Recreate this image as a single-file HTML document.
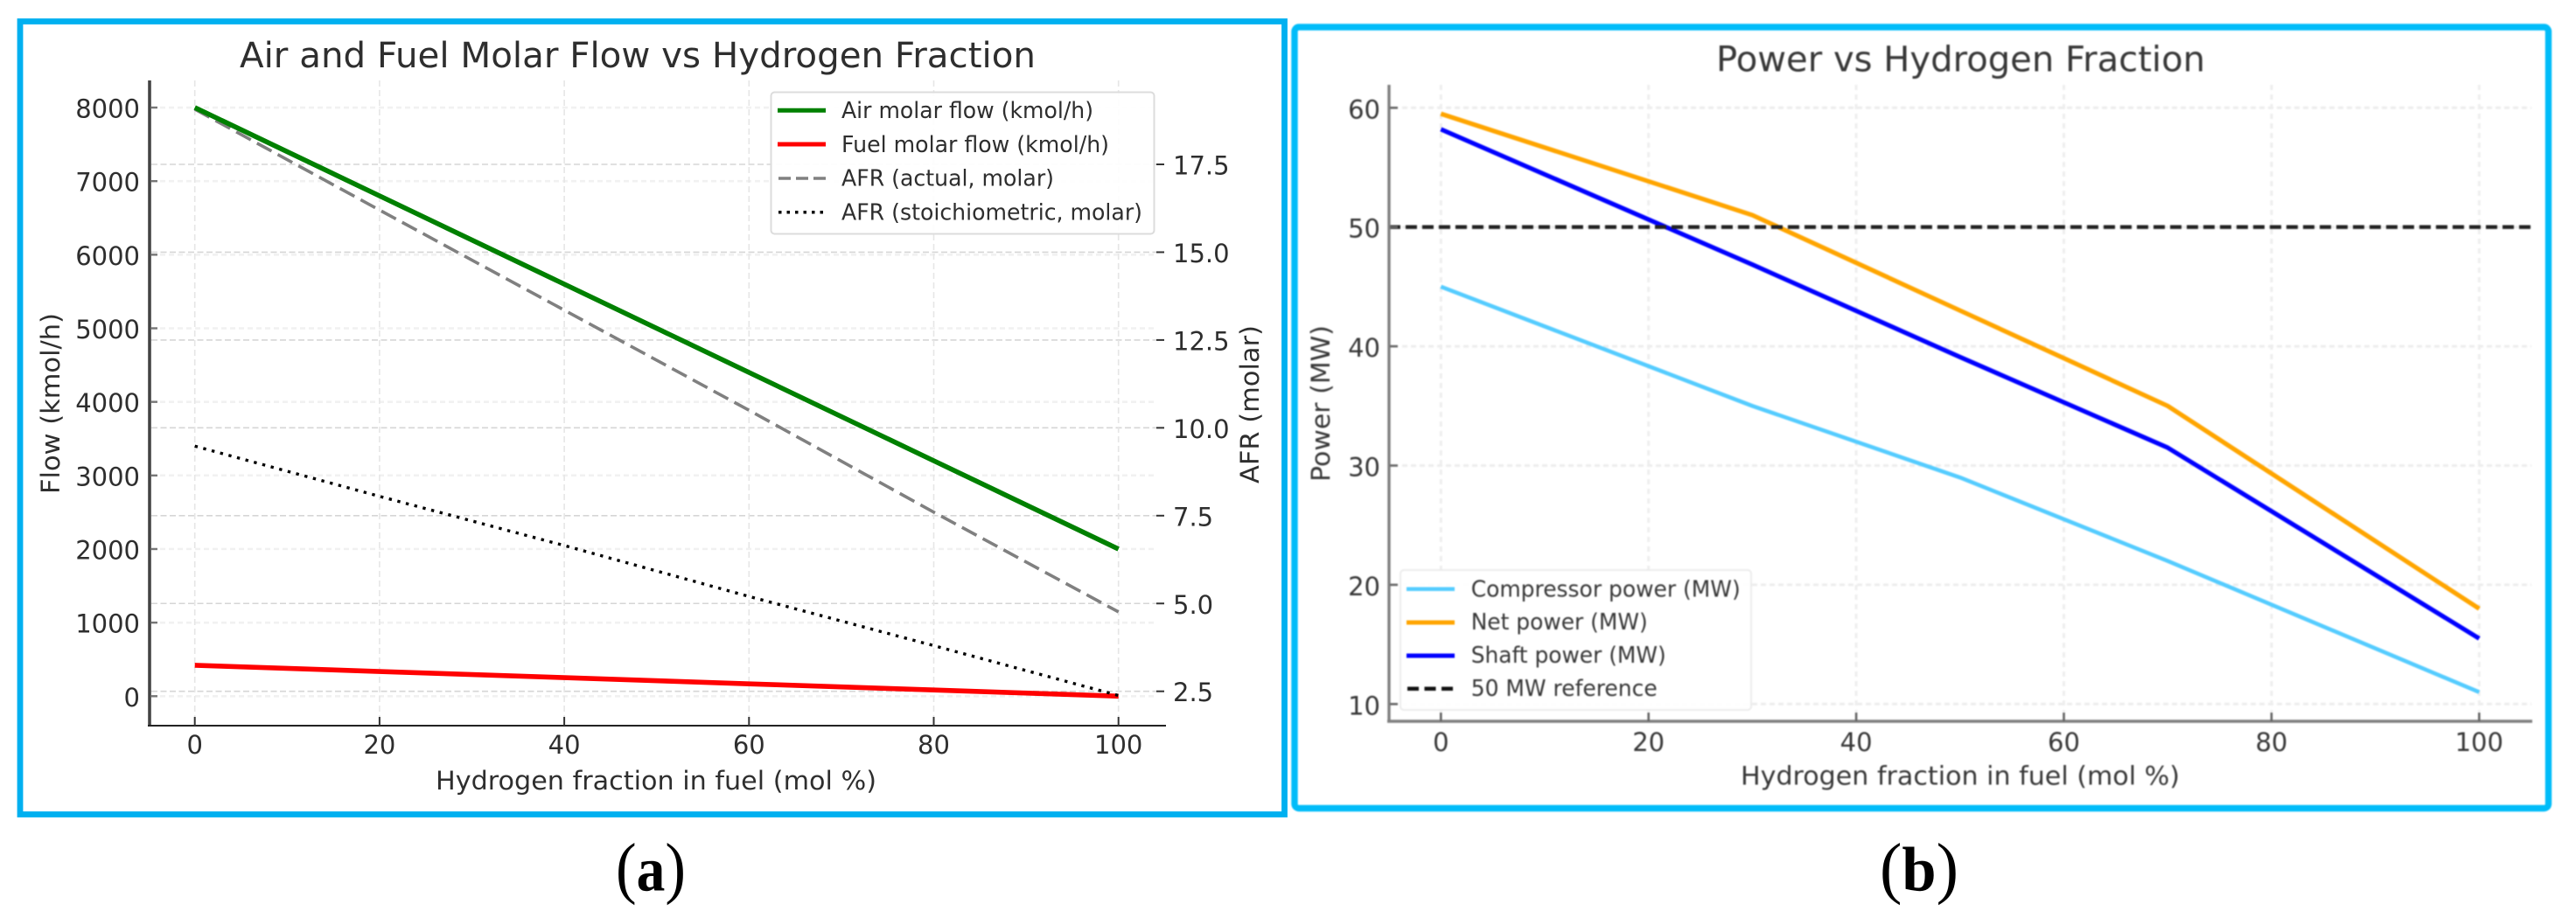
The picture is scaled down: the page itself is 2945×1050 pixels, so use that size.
<!DOCTYPE html>
<html lang="en">
<head>
<meta charset="utf-8">
<title>Air and Fuel Molar Flow and Power vs Hydrogen Fraction</title>
<style>
  html, body { margin: 0; padding: 0; background: #fff; }
  svg { display: block; }
  text { font-family: "DejaVu Sans", "Liberation Sans", sans-serif; }
  .a text { fill: #2e2e2e; }
  .b text { fill: #383838; }
  .cap { font-family: "Liberation Serif", serif; fill: #000; }
</style>
</head>
<body>
<svg id="figure" xmlns="http://www.w3.org/2000/svg" width="2945" height="1050" viewBox="0 0 2945 1050">
  <rect x="0" y="0" width="2945" height="1050" fill="#fff"/>

  <g id="panelA" class="a" style="filter:blur(0.35px)">
    <rect x="23" y="24.5" width="1445.5" height="907" fill="#fff" stroke="#00b0f0" stroke-width="6.8"/>
    <g id="plotA"></g>
    <text x="274" y="77" font-size="40" textLength="910" lengthAdjust="spacingAndGlyphs">Air and Fuel Molar Flow vs Hydrogen Fraction</text>
    <text x="498" y="903" font-size="29" textLength="504" lengthAdjust="spacingAndGlyphs">Hydrogen fraction in fuel (mol %)</text>
    <text transform="translate(68,565) rotate(-90)" font-size="29" textLength="207" lengthAdjust="spacingAndGlyphs">Flow (kmol/h)</text>
    <text transform="translate(1439,553) rotate(-90)" font-size="29" textLength="181" lengthAdjust="spacingAndGlyphs">AFR (molar)</text>
    <g>
      <rect x="881.5" y="105.5" width="438" height="162" rx="4" fill="#fff" fill-opacity="0.92" stroke="#dcdcdc" stroke-width="2"/>
      <line x1="889" x2="944" y1="126.3" y2="126.3" stroke="#008000" stroke-width="5"/>
      <line x1="889" x2="944" y1="165" y2="165" stroke="#ff0000" stroke-width="5"/>
      <line x1="890" x2="944" y1="204" y2="204" stroke="#808080" stroke-width="3.5" stroke-dasharray="14 6"/>
      <line x1="890" x2="944" y1="242.7" y2="242.7" stroke="#000" stroke-width="3.5" stroke-dasharray="3.5 6"/>
      <text x="962" y="135" font-size="26" textLength="288" lengthAdjust="spacingAndGlyphs">Air molar flow (kmol/h)</text>
      <text x="962" y="174" font-size="26" textLength="306" lengthAdjust="spacingAndGlyphs">Fuel molar flow (kmol/h)</text>
      <text x="962" y="212.7" font-size="26" textLength="243" lengthAdjust="spacingAndGlyphs">AFR (actual, molar)</text>
      <text x="962" y="251.3" font-size="26" textLength="344" lengthAdjust="spacingAndGlyphs">AFR (stoichiometric, molar)</text>
    </g>
  </g>

  <g id="panelB" class="b" style="filter:blur(0.9px)">
    <rect x="1480" y="31" width="1433.5" height="893.5" rx="5" fill="#fff" stroke="#00bcf9" stroke-width="7.4"/>
    <g id="plotB"></g>
    <text x="1962" y="81.7" font-size="40" textLength="559" lengthAdjust="spacingAndGlyphs">Power vs Hydrogen Fraction</text>
    <text x="1990" y="897.5" font-size="29" textLength="502" lengthAdjust="spacingAndGlyphs">Hydrogen fraction in fuel (mol %)</text>
    <text transform="translate(1520,551) rotate(-90)" font-size="29" textLength="179" lengthAdjust="spacingAndGlyphs">Power (MW)</text>
    <g>
      <rect x="1601" y="652" width="401" height="160" rx="4" fill="#fff" fill-opacity="0.95" stroke="#ececec" stroke-width="2"/>
      <line x1="1608" x2="1663" y1="673.7" y2="673.7" stroke="#55ccff" stroke-width="4.5"/>
      <line x1="1608" x2="1663" y1="712" y2="712" stroke="#ffa500" stroke-width="5"/>
      <line x1="1608" x2="1663" y1="750" y2="750" stroke="#0000ff" stroke-width="5"/>
      <line x1="1609" x2="1663" y1="787.7" y2="787.7" stroke="#111" stroke-width="4.5" stroke-dasharray="13 6.5"/>
      <text x="1681.7" y="682.7" font-size="26" textLength="308" lengthAdjust="spacingAndGlyphs">Compressor power (MW)</text>
      <text x="1681.7" y="720" font-size="26" textLength="202" lengthAdjust="spacingAndGlyphs">Net power (MW)</text>
      <text x="1681.7" y="758" font-size="26" textLength="223" lengthAdjust="spacingAndGlyphs">Shaft power (MW)</text>
      <text x="1681.7" y="796" font-size="26" textLength="213" lengthAdjust="spacingAndGlyphs">50 MW reference</text>
    </g>
  </g>

  <text class="cap" x="704" y="1018.7" font-size="78" textLength="80" lengthAdjust="spacingAndGlyphs">(<tspan font-weight="700" font-size="72">a</tspan>)</text>
  <text class="cap" x="2149" y="1018.7" font-size="78" textLength="90" lengthAdjust="spacingAndGlyphs">(<tspan font-weight="700" font-size="72">b</tspan>)</text>
</svg>

<script>
// ---- Panel (a) data ----
const hydrogenFractionA = [0, 20, 40, 60, 80, 100];
const airMolarFlow = [8000, 6800, 5600, 4400, 3200, 2000];
const fuelMolarFlow = [420, 336, 252, 168, 84, 0];
const afrActual = [19.07, 16.2, 13.35, 10.5, 7.6, 4.76];
const afrStoichiometric = [9.48, 8.05, 6.65, 5.2, 3.8, 2.38];
const xTickValues = [0, 20, 40, 60, 80, 100];
const flowTickValues = [0, 1000, 2000, 3000, 4000, 5000, 6000, 7000, 8000];
const afrTickValues = [2.5, 5.0, 7.5, 10.0, 12.5, 15.0, 17.5];

// ---- Panel (b) data ----
const hydrogenFractionB = [0, 30, 50, 70, 100];
const compressorPower = [45, 35, 29, 22, 11];
const netPower = [59.5, 51, 43, 35, 18];
const shaftPower = [58.2, 46.85, 39.1, 31.5, 15.5];
const referenceSpan = [-5, 105];
const referencePower = [50, 50];
const powerTickValues = [10, 20, 30, 40, 50, 60];

// ---- Axis functions ----
function xA(v) { return 222.7 + v * 10.56; }
function yFlow(v) { return 796.3 - v * 0.08416; }
function yAfr(v) { return 790.7 - (v - 2.5) * 40.18; }
function xB(v) { return 1647.3 + v * 11.87; }
function yPower(v) { return 805.3 - (v - 10) * 13.64; }

const SVG_NS = 'http://www.w3.org/2000/svg';

function line(parent, x1, y1, x2, y2, color, width, dash) {
  const el = document.createElementNS(SVG_NS, 'line');
  el.setAttribute('x1', x1);
  el.setAttribute('y1', y1);
  el.setAttribute('x2', x2);
  el.setAttribute('y2', y2);
  el.setAttribute('stroke', color);
  el.setAttribute('stroke-width', width);
  if (dash) el.setAttribute('stroke-dasharray', dash);
  parent.appendChild(el);
  return el;
}

function series(parent, xs, ys, xFn, yFn, color, width, dash) {
  const el = document.createElementNS(SVG_NS, 'polyline');
  el.setAttribute('points', xs.map(function (x, i) {
    return xFn(x).toFixed(2) + ',' + yFn(ys[i]).toFixed(2);
  }).join(' '));
  el.setAttribute('fill', 'none');
  el.setAttribute('stroke', color);
  el.setAttribute('stroke-width', width);
  el.setAttribute('stroke-linejoin', 'round');
  if (dash) el.setAttribute('stroke-dasharray', dash);
  parent.appendChild(el);
  return el;
}

function label(parent, x, y, str, anchor, size) {
  const el = document.createElementNS(SVG_NS, 'text');
  el.setAttribute('x', x);
  el.setAttribute('y', y);
  el.setAttribute('text-anchor', anchor);
  el.setAttribute('font-size', size);
  el.textContent = str;
  parent.appendChild(el);
  return el;
}

// ---- Draw panel (a) ----
const plotA = document.getElementById('plotA');

flowTickValues.forEach(function (t) {
  const grid = line(plotA, 173, yFlow(t), 1322, yFlow(t), '#f1f1f1', 2.6, '6 4');
  
  
});
afrTickValues.forEach(function (t) {
  const grid = line(plotA, 173, yAfr(t), 1322, yAfr(t), '#d6d6d6', 1.6, '7 3.5');
  
  
});
xTickValues.forEach(function (t) {
  const grid = line(plotA, xA(t), 92, xA(t), 820, '#e6e6e6', 1.6, '7 4');
  
  
});

const afrActualLine = series(plotA, hydrogenFractionA, afrActual, xA, yAfr, '#808080', 3.6, '19 8');


const fuelLine = series(plotA, hydrogenFractionA, fuelMolarFlow, xA, yFlow, '#ff0000', 5.6);


const airLine = series(plotA, hydrogenFractionA, airMolarFlow, xA, yFlow, '#008000', 5.6);


const afrStoichLine = series(plotA, hydrogenFractionA, afrStoichiometric, xA, yAfr, '#000000', 3.4, '3.4 6.6');



const spineLeftA = line(plotA, 171, 92, 171, 831, '#444', 3.6);


const spineBottomA = line(plotA, 169, 830, 1333, 830, '#222', 2);



flowTickValues.forEach(function (t) {
  const tick = line(plotA, 173, yFlow(t), 180, yFlow(t), '#777', 2.4);
  
  
  const txt = label(plotA, 160, yFlow(t) + 11.5, String(t), 'end', 29);
  
  
});
afrTickValues.forEach(function (t) {
  const tick = line(plotA, 1322, yAfr(t), 1331, yAfr(t), '#333', 2);
  
  
  const txt = label(plotA, 1341, yAfr(t) + 11.5, t.toFixed(1), 'start', 29);
  
  
});
xTickValues.forEach(function (t) {
  const tick = line(plotA, xA(t), 820, xA(t), 830, '#333', 2);
  
  
  const txt = label(plotA, xA(t), 862, String(t), 'middle', 29);
  
  
});

// ---- Draw panel (b) ----
const plotB = document.getElementById('plotB');

powerTickValues.forEach(function (t) {
  const grid = line(plotB, 1603, yPower(t), 2894, yPower(t), '#ededed', 3, '6 4');
  
  
});
xTickValues.forEach(function (t) {
  const grid = line(plotB, xB(t), 97, xB(t), 814, '#eeeeee', 3, '6 5');
  
  
});

const compressorLine = series(plotB, hydrogenFractionB, compressorPower, xB, yPower, '#55ccff', 4.6);


const netLine = series(plotB, hydrogenFractionB, netPower, xB, yPower, '#ffa500', 5.2);


const shaftLine = series(plotB, hydrogenFractionB, shaftPower, xB, yPower, '#0000ff', 5.2);


const refLine = series(plotB, referenceSpan, referencePower, xB, yPower, '#222222', 4.4, '13 6');



const spineLeftB = line(plotB, 1588, 97, 1588, 826, '#808080', 3.4);


const spineBottomB = line(plotB, 1586, 825, 2895, 825, '#808080', 3.6);



powerTickValues.forEach(function (t) {
  const tick = line(plotB, 1589, yPower(t), 1598, yPower(t), '#666', 2.6);
  
  
  const txt = label(plotB, 1578, yPower(t) + 12, String(t), 'end', 29);
  
  
});
xTickValues.forEach(function (t) {
  const tick = line(plotB, xB(t), 815, xB(t), 825, '#666', 2.6);
  
  
  const txt = label(plotB, xB(t), 859, String(t), 'middle', 29);
  
  
});
</script>
</body>
</html>
